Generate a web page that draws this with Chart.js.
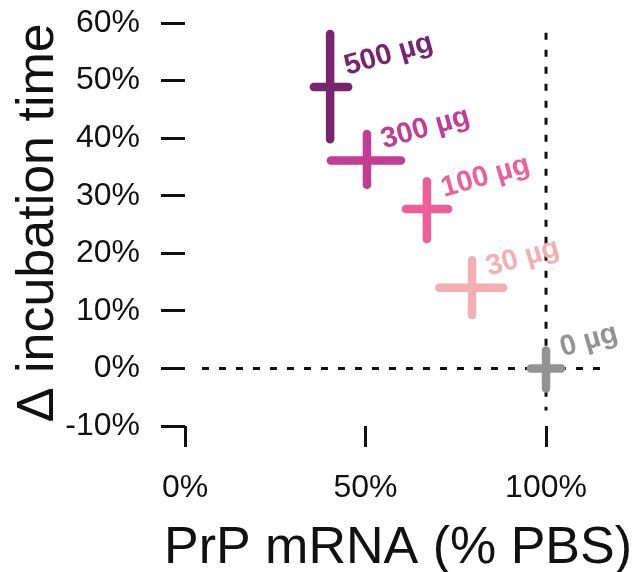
<!DOCTYPE html>
<html lang="en">
<head>
<meta charset="UTF-8">
<title>PrP mRNA vs incubation time</title>
<script src="https://cdn.jsdelivr.net/npm/chart.js"></script>
<style>
    body { margin: 0; background: #fff; }
    .wrap { width: 639px; height: 572px; position: relative; }
</style>
</head>
<body>
<div class="wrap"><canvas id="chart"></canvas></div>
<script>
    // doses and their colours
    const doses = ['500 µg', '300 µg', '100 µg', '30 µg', '0 µg'];
    const doseColors = ['#78246f', '#c33c95', '#ee5e9a', '#f4afb4', '#939393'];

    // PrP mRNA (% of PBS): mean and error range
    const mrnaMean = [40.2, 50.4, 67.0, 79.5, 100];
    const mrnaLow  = [35.7, 40.4, 61.2, 70.4, 95.8];
    const mrnaHigh = [45.2, 59.8, 72.9, 88.1, 104.2];

    // change in incubation time (%): mean and error range
    const incMean = [48.9, 36.1, 27.7, 14.0, 0];
    const incLow  = [39.8, 31.9, 22.5, 9.3, -3.5];
    const incHigh = [58.1, 40.7, 32.5, 18.8, 3.1];

    const xTicks = [0, 50, 100];
    const yTicks = [-10, 0, 10, 20, 30, 40, 50, 60];

    const xTitle = 'PrP mRNA (% PBS)';
    const yTitle = 'Δ incubation time';

    // dashed reference lines (PBS level)
    const hRef = [{x: 4.7, y: 0}, {x: 117, y: 0}];
    const vRef = [{x: 100, y: 58.3}, {x: 100, y: -7.3}];

    const font = "'Liberation Sans', Arial, sans-serif";

    // crosses (error bars in both directions) and dose labels
    const crossPlugin = {
        id: 'crosses',
        afterDatasetsDraw(chart) {
            const ctx = chart.ctx;
            const xs = chart.scales.x, ys = chart.scales.y;
            ctx.save();
            ctx.lineCap = 'round';
            ctx.lineWidth = 8.5;
            doses.forEach((d, i) => {
                const cx = xs.getPixelForValue(mrnaMean[i]);
                const cy = ys.getPixelForValue(incMean[i]);
                ctx.strokeStyle = doseColors[i];
                ctx.beginPath();
                ctx.moveTo(cx, ys.getPixelForValue(incLow[i]));
                ctx.lineTo(cx, ys.getPixelForValue(incHigh[i]));
                ctx.moveTo(xs.getPixelForValue(mrnaLow[i]), cy);
                ctx.lineTo(xs.getPixelForValue(mrnaHigh[i]), cy);
                ctx.stroke();

                ctx.save();
                ctx.translate(cx + 17, cy - 12);
                ctx.rotate(-16 * Math.PI / 180);
                ctx.fillStyle = doseColors[i];
                ctx.font = 'bold 29px ' + font;
                ctx.textAlign = 'left';
                ctx.textBaseline = 'alphabetic';
                ctx.fillText(d, 0, 0);
                ctx.restore();
            });
            ctx.restore();
        }
    };

    // axis titles drawn here so they are not squeezed to the axis length
    const titlePlugin = {
        id: 'axisTitles',
        afterDraw(chart) {
            const ctx = chart.ctx;
            const a = chart.chartArea;
            ctx.save();
            ctx.fillStyle = '#111';
            ctx.textAlign = 'center';
            ctx.textBaseline = 'alphabetic';
            ctx.font = '52px ' + font;
            ctx.fillText(xTitle, (a.left + a.right) / 2, chart.height - 9);
            ctx.translate(a.left - 132, (a.top + a.bottom) / 2 + 4);
            ctx.rotate(-Math.PI / 2);
            ctx.fillText(yTitle, 0, 0);
            ctx.restore();
        }
    };

    const dashed = {
        type: 'line',
        borderColor: '#111',
        borderWidth: 3,
        borderDash: [7, 10],
        pointRadius: 0,
        fill: false
    };

    new Chart(document.getElementById('chart'), {
        type: 'scatter',
        data: {
            datasets: [
                Object.assign({ data: hRef }, dashed),
                Object.assign({ data: vRef }, dashed),
                {
                    data: mrnaMean.map((v, i) => ({x: v, y: incMean[i]})),
                    pointRadius: 0
                }
            ]
        },
        options: {
            responsive: true,
            maintainAspectRatio: false,
            animation: false,
            layout: { padding: { top: 11.5, right: 28, left: 0, bottom: 0 } },
            plugins: { legend: { display: false }, tooltip: { enabled: false } },
            scales: {
                x: {
                    type: 'linear',
                    min: 0,
                    max: 118,
                    afterBuildTicks: s => { s.ticks = xTicks.map(v => ({value: v})); },
                    afterFit: s => { s.height = 146; s.paddingLeft = 0; s.paddingRight = 0; },
                    border: { display: false },
                    grid: { drawOnChartArea: false, drawTicks: true, tickLength: 21, color: '#111', lineWidth: 3 },
                    ticks: {
                        padding: 22,
                        color: '#111',
                        font: { family: font, size: 32 },
                        callback: v => v + '%'
                    }
                },
                y: {
                    type: 'linear',
                    min: -10,
                    max: 62,
                    afterBuildTicks: s => { s.ticks = yTicks.map(v => ({value: v})); },
                    afterFit: s => { s.width = 185; s.paddingTop = 0; s.paddingBottom = 0; },
                    border: { display: false },
                    grid: { drawOnChartArea: false, drawTicks: true, tickLength: 24, color: '#111', lineWidth: 3 },
                    ticks: {
                        padding: 21,
                        color: '#111',
                        font: { family: font, size: 32 },
                        callback: v => v + '%'
                    }
                }
            }
        },
        plugins: [crossPlugin, titlePlugin]
    });
</script>
</body>
</html>
